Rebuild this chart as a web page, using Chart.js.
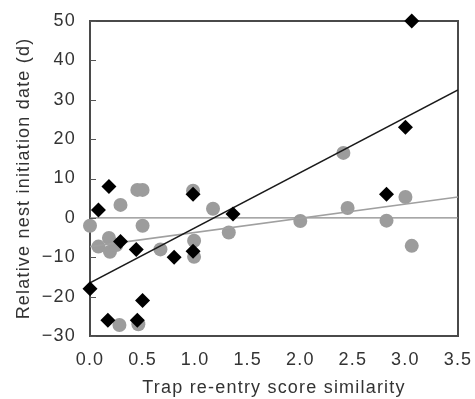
<!DOCTYPE html>
<html>
<head>
<meta charset="utf-8">
<script src="https://cdn.jsdelivr.net/npm/chart.js@4"></script>
<style>
  html, body { margin: 0; padding: 0; background: #fff; }
  #wrap { width: 475px; height: 399px; }
</style>
</head>
<body>
<div id="wrap"><canvas id="chart"></canvas></div>
<script>
// black diamonds
const diamondX = [0.00, 0.08, 0.18, 0.29, 0.44, 0.17, 0.45, 0.50, 0.80, 0.98, 0.98, 1.36, 2.82, 3.00, 3.06];
const diamondY = [-18, 2, 8, -6, -8, -26, -26, -21, -10, -8.5, 6, 1, 6, 23, 50];

// grey circles
const circleX = [0.00, 0.08, 0.18, 0.19, 0.25, 0.29, 0.45, 0.50, 0.50, 0.28, 0.46, 0.67, 0.98, 0.99, 0.99, 1.17, 1.32, 2.00, 2.41, 2.45, 2.82, 3.00, 3.06];
const circleY = [-2, -7.3, -5.1, -8.6, -6.9, 3.3, 7.1, 7.1, -2, -27.2, -27, -8, 6.9, -5.8, -9.9, 2.3, -3.7, -0.8, 16.5, 2.5, -0.7, 5.3, -7.1];

// fitted lines
const fitX = [0, 3.5];
const blackFitY = [-16.5, 32.5];
const greyFitY = [-7.3, 5.3];
const zeroY = [0, 0];

const xTicks = [0, 0.5, 1, 1.5, 2, 2.5, 3, 3.5];
const yTicks = [-30, -20, -10, 0, 10, 20, 30, 40, 50];

const FONT = 'Liberation Sans, Arial, sans-serif';
const AXIS = '#4a4a4a';

function pts(xs, ys) {
    return xs.map(function (x, i) { return { x: x, y: ys[i] }; });
}

// the original lettering is set rather wide
const spacingPlugin = {
    id: 'spacing',
    beforeUpdate: function (chart) { chart.ctx.letterSpacing = '1.2px'; },
    beforeDraw: function (chart) { chart.ctx.letterSpacing = '1.2px'; }
};

// small tick marks pointing into the plot
const inTicks = {
    id: 'inTicks',
    afterDraw: function (chart) {
        const a = chart.chartArea;
        const ctx = chart.ctx;
        const ys = chart.scales.y;
        ctx.save();
        ctx.strokeStyle = '#555';
        ctx.lineWidth = 1;
        ctx.beginPath();
        yTicks.forEach(function (v) {
            const py = Math.round(ys.getPixelForValue(v)) + 0.5;
            ctx.moveTo(a.left, py);
            ctx.lineTo(a.left + 6, py);
        });
        ctx.stroke();
        ctx.restore();
    }
};

function edgeAxis(pos, min, max) {
    return {
        type: 'linear',
        position: pos,
        min: min,
        max: max,
        grid: { display: false, drawTicks: false },
        border: { display: true, color: AXIS, width: 2 },
        ticks: { display: false }
    };
}

const mainTickFont = { family: FONT, size: 18 };

new Chart(document.getElementById('chart'), {
    type: 'scatter',
    data: {
        datasets: [
            {
                label: 'diamonds',
                data: pts(diamondX, diamondY),
                pointStyle: 'rectRot',
                pointRadius: 7.5,
                backgroundColor: '#000',
                borderColor: '#000',
                borderWidth: 0,
                clip: false,
                order: 0
            },
            {
                label: 'black fit',
                data: pts(fitX, blackFitY),
                showLine: true,
                pointRadius: 0,
                borderColor: '#1a1a1a',
                borderWidth: 1.6,
                order: 1
            },
            {
                label: 'grey fit',
                data: pts(fitX, greyFitY),
                showLine: true,
                pointRadius: 0,
                borderColor: '#a0a0a0',
                borderWidth: 1.6,
                order: 2
            },
            {
                label: 'circles',
                data: pts(circleX, circleY),
                pointStyle: 'circle',
                pointRadius: 7,
                backgroundColor: '#9c9c9c',
                borderWidth: 0,
                clip: false,
                order: 3
            },
            {
                label: 'zero',
                data: pts(fitX, zeroY),
                showLine: true,
                pointRadius: 0,
                borderColor: '#8a8a8a',
                borderWidth: 1.2,
                order: 4
            }
        ]
    },
    options: {
        responsive: true,
        maintainAspectRatio: false,
        animation: false,
        layout: { padding: { top: 21, right: 17, left: 0, bottom: 0 } },
        plugins: {
            legend: { display: false },
            tooltip: { enabled: false }
        },
        scales: {
            x: {
                type: 'linear',
                min: 0,
                max: 3.5,
                afterBuildTicks: function (s) { s.ticks = xTicks.map(function (v) { return { value: v }; }); },
                afterFit: function (s) { s.height = 63; s.paddingLeft = 0; s.paddingRight = 0; },
                grid: { display: false, drawTicks: false },
                border: { display: true, color: AXIS, width: 2 },
                ticks: {
                    padding: 13,
                    color: '#333',
                    font: mainTickFont,
                    callback: function (v) { return Number(v).toFixed(1); }
                },
                title: {
                    display: true,
                    text: 'Trap re-entry score similarity',
                    color: '#333',
                    font: { family: FONT, size: 18 },
                    padding: { top: 4, bottom: 0 }
                }
            },
            y: {
                type: 'linear',
                min: -30,
                max: 50,
                afterBuildTicks: function (s) { s.ticks = yTicks.map(function (v) { return { value: v }; }); },
                afterFit: function (s) { s.width = 90; s.paddingTop = 0; s.paddingBottom = 0; },
                grid: { display: false, drawTicks: false },
                border: { display: true, color: AXIS, width: 2 },
                ticks: {
                    padding: 14,
                    color: '#333',
                    font: mainTickFont,
                    callback: function (v) { return String(v).replace('-', '\u2212'); }
                },
                title: {
                    display: true,
                    text: 'Relative nest initiation date (d)',
                    color: '#333',
                    font: { family: FONT, size: 18 },
                    padding: { top: 13, bottom: 0 }
                }
            },
            xTop: edgeAxis('top', 0, 3.5),
            yRight: edgeAxis('right', -30, 50)
        }
    },
    plugins: [spacingPlugin, inTicks]
});
</script>
</body>
</html>
